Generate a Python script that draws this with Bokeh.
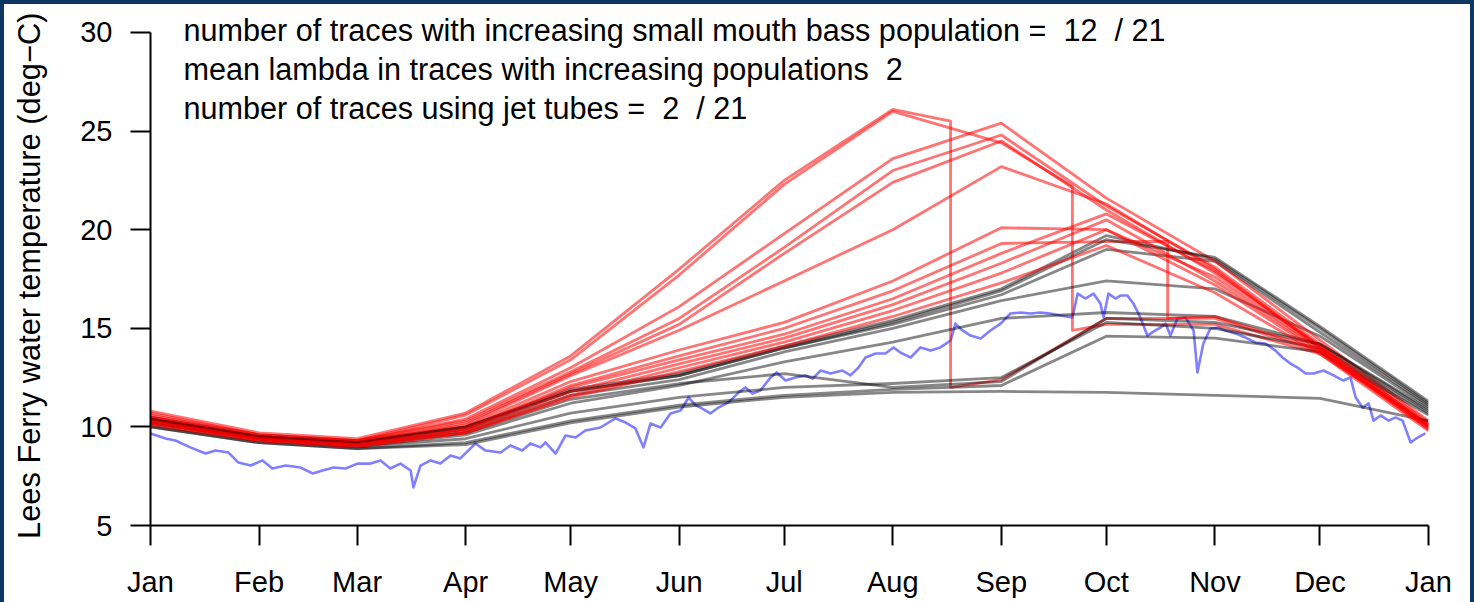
from bokeh.plotting import figure
from bokeh.models import Label, Spacer, FixedTicker, Range1d
from bokeh.layouts import row, column
from bokeh.embed import file_html
from bokeh.resources import INLINE

# ---- data -------------------------------------------------------------
MONTH_DAYS = [0, 31, 59, 90, 120, 151, 181, 212, 243, 273, 304, 334, 365]
MONTH_LABELS = ["Jan", "Feb", "Mar", "Apr", "May", "Jun", "Jul",
                "Aug", "Sep", "Oct", "Nov", "Dec", "Jan"]
TEMP_TICKS = [5, 10, 15, 20, 25, 30]

# simulated Lees Ferry temperature traces (deg C at the first of each month)
# traces in which the small mouth bass population increases
RED_TRACES = [
    [10.8, 9.7, 9.4, 10.7, 13.6, 18.0, 22.5, 26.1, 12.4, 15.5, 15.5, 13.8, 10.1],
    [10.7, 9.6, 9.3, 10.6, 13.4, 17.7, 22.3, 26.0, 24.4, 15.2, 15.2, 13.7, 10.1],
    [10.6, 9.6, 9.3, 10.4, 13.0, 16.1, 19.8, 23.6, 25.4, 21.6, 18.4, 14.4, 10.3],
    [10.5, 9.5, 9.3, 10.3, 12.8, 15.5, 19.1, 23.0, 24.8, 21.2, 18.1, 14.2, 10.2],
    [10.5, 9.5, 9.2, 10.2, 12.7, 15.2, 18.8, 22.4, 24.5, 21.0, 17.8, 14.1, 10.1],
    [10.4, 9.5, 9.2, 10.1, 12.6, 14.9, 17.4, 20.0, 23.2, 21.3, 18.0, 14.0, 10.0],
    [10.4, 9.5, 9.2, 10.0, 12.3, 13.9, 15.3, 17.4, 20.1, 20.0, 17.6, 14.0, 10.0],
    [10.3, 9.4, 9.1, 9.9, 12.1, 13.6, 15.0, 16.9, 19.3, 19.4, 15.6, 13.9, 10.0],
    [10.3, 9.4, 9.1, 9.9, 12.0, 13.4, 14.7, 16.5, 18.8, 20.8, 17.9, 14.1, 10.1],
    [10.2, 9.4, 9.1, 9.8, 11.8, 13.2, 14.5, 16.2, 18.3, 20.5, 17.4, 13.9, 9.9],
    [10.2, 9.3, 9.0, 9.7, 11.6, 13.0, 14.3, 15.9, 17.8, 20.0, 17.2, 13.8, 9.9],
    [10.1, 9.3, 9.0, 9.7, 11.5, 12.8, 14.1, 15.6, 17.3, 19.2, 16.8, 13.7, 9.8],
]
# sudden releases: (red trace index, day of year, temp before, temp after)
RED_DROPS = [
    (0, 228.5, 25.5, 12.0),
    (1, 263.3, 22.2, 14.9),
    (7, 290.5, 19.4, 15.5),
]
# traces without an increasing population
GRAY_TRACES = [
    [10.5, 9.6, 9.3, 10.0, 11.9, 12.7, 14.1, 15.4, 17.0, 19.7, 18.5, 15.0, 11.2],
    [10.4, 9.5, 9.2, 9.9, 11.8, 12.6, 14.0, 15.2, 16.7, 19.0, 18.4, 14.8, 11.1],
    [10.3, 9.4, 9.1, 9.8, 11.6, 12.4, 13.8, 15.0, 16.4, 17.4, 17.0, 14.6, 11.0],
    [10.2, 9.4, 9.0, 9.6, 11.2, 12.1, 13.3, 14.3, 15.5, 15.8, 15.6, 14.2, 10.8],
    [10.1, 9.3, 9.0, 9.4, 10.7, 11.5, 12.0, 12.2, 12.5, 15.3, 15.0, 14.0, 10.7],
    [10.0, 9.2, 8.9, 9.2, 10.3, 11.1, 11.6, 11.9, 12.1, 14.6, 14.5, 13.8, 10.6],
    [10.0, 9.2, 8.9, 9.1, 10.2, 11.0, 11.5, 11.75, 11.8, 11.75, 11.6, 11.45, 10.3],
    [10.2, 9.4, 9.1, 9.7, 11.4, 12.2, 12.7, 12.0, 12.3, 15.5, 15.3, 14.2, 10.9],
    [10.4, 9.5, 9.2, 10.0, 11.8, 12.6, 14.0, 15.3, 16.9, 19.5, 18.6, 15.1, 11.3],
]
N_JET_TUBES = 2
MEAN_LAMBDA = 2

# observed temperature
OBS_DAY = [0, 4.3, 7.1, 11.4, 15.7, 18.6, 22.3, 25.1, 28.6, 32.0, 34.8, 38.6, 42.8, 46.3,
           49.1, 52.3, 55.7, 59.1, 62.8, 65.7, 68.5, 71.4, 74.3, 75.1, 77.1, 80.0, 82.8,
           85.7, 88.5, 92.8, 95.7, 100.0, 102.8, 106.2, 108.5, 111.4, 112.8, 115.7, 118.5,
           121.4, 124.2, 128.5, 132.8, 135.7, 138.5, 140.8, 142.8, 145.7, 148.5, 151.4,
           153.7, 155.7, 157.1, 159.9, 162.2, 165.1, 167.9, 169.9, 171.9, 174.2, 177.1,
           178.8, 181.4, 184.2, 187.1, 189.1, 191.4, 194.2, 197.6, 199.9, 202.2, 204.2,
           207.1, 209.9, 212.2, 214.2, 217.1, 219.9, 222.8, 225.6, 228.5, 229.9, 231.9,
           234.2, 237.1, 239.9, 242.8, 245.6, 248.5, 251.3, 254.2, 257.0, 259.9, 263.3,
           264.8, 267.0, 269.3, 271.3, 272.2, 273.6, 275.6, 277.0, 279.0, 280.7, 282.7,
           284.7, 287.0, 288.5, 289.9, 291.3, 293.3, 295.6, 297.9, 299.0, 300.7, 302.7,
           305.0, 307.0, 309.9, 312.7, 315.6, 318.4, 321.3, 323.3, 325.6, 327.6, 329.9,
           332.2, 335.0, 337.9, 340.7, 342.7, 344.2, 346.2, 347.9, 349.3, 351.3, 353.6,
           355.6, 357.6, 359.9, 361.9, 364.1]
OBS_TEMP = [9.67, 9.41, 9.31, 8.96, 8.65, 8.80, 8.70, 8.19, 8.04, 8.30, 7.89, 8.04, 7.94, 7.64,
            7.79, 7.94, 7.89, 8.14, 8.14, 8.30, 7.89, 8.14, 7.79, 6.93, 8.04, 8.30, 8.14,
            8.55, 8.40, 9.16, 8.80, 8.70, 9.06, 8.80, 9.16, 8.96, 9.21, 8.65, 9.56,
            9.46, 9.82, 9.97, 10.43, 10.22, 9.92, 8.96, 10.17, 9.97, 10.68, 10.83,
            11.49, 11.09, 10.98, 10.68, 10.98, 11.24, 11.74, 12.00, 11.69, 11.85, 12.51,
            12.76, 12.35, 12.51, 12.61, 12.45, 12.86, 12.71, 12.86, 12.61, 13.01, 13.52,
            13.72, 13.72, 14.03, 13.77, 13.52, 14.03, 13.87, 14.03, 14.38, 15.24, 14.89,
            14.63, 14.48, 14.89, 15.24, 15.75, 15.80, 15.75, 15.80, 15.75, 15.65, 15.55,
            16.76, 16.51, 16.76, 16.26, 15.55, 16.76, 16.51, 16.66, 16.66, 16.26, 15.55,
            14.63, 14.89, 15.04, 15.24, 14.63, 15.50, 15.55, 14.89, 12.76, 14.23, 14.99,
            15.04, 14.89, 14.74, 14.53, 14.28, 14.23, 13.87, 13.52, 13.21, 13.01, 12.71,
            12.71, 12.86, 12.61, 12.35, 12.51, 11.49, 10.98, 11.19, 10.32, 10.58, 10.32,
            10.48, 10.32, 9.21, 9.46, 9.67]

TEXT_FONT = "Liberation Sans"
NAVY = "#0e3863"
NBSP = "\u00a0"


def trace_points(monthly, drop=None):
    """Monthly knots of one trace, with an optional vertical release step."""
    days, temps = list(MONTH_DAYS), list(monthly)
    if drop is not None:
        d, before, after = drop
        i = next(k for k, md in enumerate(days) if md > d)
        days[i:i] = [d, d]
        temps[i:i] = [before, after]
    return days, temps


# ---- figure -----------------------------------------------------------
# the frame reaches a little above 30 deg so the summary text is not clipped;
# the axis itself is bounded to the 5-30 range
p = figure(width=1466, height=598, output_backend="svg", toolbar_location=None,
           x_range=Range1d(0, 365), y_range=Range1d(5, 30.76),
           min_border_left=146, min_border_right=42,
           min_border_top=13, min_border_bottom=77)
p.background_fill_color = "white"
p.border_fill_color = "white"
p.outline_line_color = None
p.grid.visible = False

# observed series underneath the simulations
p.line(OBS_DAY, OBS_TEMP, line_color="blue", line_alpha=0.5, line_width=2.6,
       line_join="round")

drops = {idx: (d, b, a) for idx, d, b, a in RED_DROPS}
n_red, n_gray = len(RED_TRACES), len(GRAY_TRACES)
order = []
for k in range(max(n_red, n_gray)):
    if k < n_gray:
        order.append(("gray", k))
    if k < n_red:
        order.append(("red", k))
for kind, k in order:
    if kind == "red":
        xs, ys = trace_points(RED_TRACES[k], drops.get(k))
        p.line(xs, ys, line_color="red", line_alpha=0.55, line_width=2.8,
               line_join="round")
    else:
        xs, ys = trace_points(GRAY_TRACES[k])
        p.line(xs, ys, line_color="black", line_alpha=0.47, line_width=2.8,
               line_join="round")

# axes
p.xaxis.ticker = FixedTicker(ticks=MONTH_DAYS)
p.xaxis.major_label_overrides = {d: lab for d, lab in zip(MONTH_DAYS, MONTH_LABELS)}
p.yaxis.ticker = FixedTicker(ticks=TEMP_TICKS)
p.yaxis.bounds = (TEMP_TICKS[0], TEMP_TICKS[-1])
# trailing padding keeps the label centred on the bounded 5-30 axis
p.yaxis.axis_label = "Lees Ferry water temperature (deg\u2212C)" + NBSP
for ax in (p.xaxis, p.yaxis):
    ax.axis_line_width = 2
    ax.axis_line_color = "black"
    ax.major_tick_line_width = 2
    ax.major_tick_line_color = "black"
    ax.major_tick_out = 20
    ax.major_tick_in = 0
    ax.minor_tick_line_color = None
    ax.major_label_text_font = TEXT_FONT
    ax.major_label_text_font_size = "29px"
    ax.major_label_text_color = "black"
    ax.axis_label_text_font = TEXT_FONT
    ax.axis_label_text_font_size = "30.8px"
    ax.axis_label_text_font_style = "normal"
    ax.axis_label_text_color = "black"
p.xaxis.major_label_standoff = 20
p.yaxis.major_label_standoff = 18
p.yaxis.axis_label_standoff = 30

# summary text (R-style padded spacing kept with non-breaking spaces)
total = n_red + n_gray
lines = [
    f"number of traces with increasing small mouth bass population ={NBSP * 2}{n_red}{NBSP * 2}/ {total}",
    f"mean lambda in traces with increasing populations{NBSP * 2}{MEAN_LAMBDA}",
    f"number of traces using jet tubes ={NBSP * 2}{N_JET_TUBES}{NBSP * 2}/ {total}",
]
for i, txt in enumerate(lines):
    p.add_layout(Label(x=9.4, y=30.15 - 1.99 * i, text=txt, text_font=TEXT_FONT,
                       text_font_size="30.6px", text_color="black",
                       text_align="left", text_baseline="middle"))

# dark frame around the panel
layout = row(
    Spacer(width=4, height=602, styles={"background-color": NAVY}),
    column(Spacer(width=1466, height=4, styles={"background-color": NAVY}), p),
    Spacer(width=4, height=602, styles={"background-color": NAVY}),
)

open("out.html", "w").write(file_html(layout, INLINE))
